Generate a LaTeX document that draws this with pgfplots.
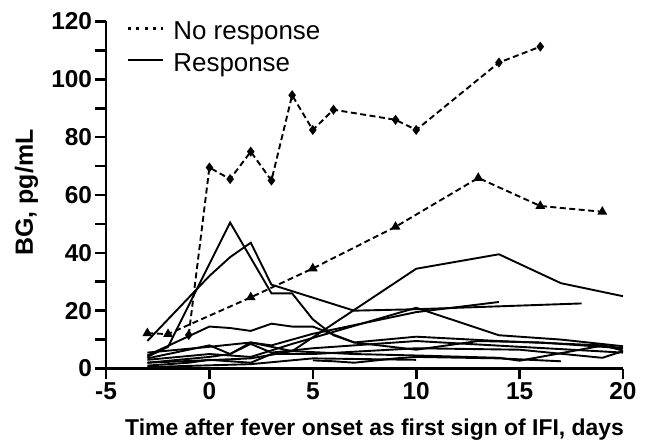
\documentclass[border=0pt]{standalone}
\usepackage{fontspec}
\setmainfont{Liberation Sans}
\usepackage{pgfplots}
\pgfplotsset{compat=1.18}
\begin{document}
\begin{tikzpicture}
\useasboundingbox (-106bp,-74.5bp) rectangle (542bp,368.5bp);
\begin{axis}[
  at={(0,0)}, anchor=south west,
  scale only axis, width=517bp, height=347bp,
  xmin=-5, xmax=20, ymin=0, ymax=120,
  axis x line=bottom, axis y line=left,
  axis line style={-, line width=2.6bp},
  xtick={-5,0,...,20}, ytick={0,20,...,120}, minor ytick={10,30,...,110},
  tick align=outside,
  major tick length=10.5bp, minor tick length=10.5bp,
  every tick/.style={black, line width=2.6bp},
  /pgf/number format/assume math mode=true,
  ticklabel style={font=\fontsize{24.5}{24.5}\selectfont\bfseries},
  xlabel={Time after fever onset as first sign of IFI, days},
  ylabel={BG, pg/mL},
  every axis x label/.style={at={(axis description cs:0.5195,-0.1945)}, anchor=base, font=\fontsize{23}{23}\selectfont\bfseries},
  every axis y label/.style={at={(axis description cs:-0.1412,0.507)}, anchor=base, rotate=90, font=\fontsize{25}{25}\selectfont\bfseries},
  legend style={at={(axis description cs:0.04,1.005)}, anchor=north west, draw=none, fill=none, inner sep=0pt, font=\fontsize{26}{26}\selectfont, row sep=8bp, /tikz/every odd column/.append style={column sep=7bp}},
  legend cell align=left,
  legend image code/.code={\draw[#1] (0bp,0.3em) -- (35bp,0.3em);},
  resp/.style={black, line width=1.9bp, mark=none, forget plot},
  nore/.style={black, line width=1.9bp, dash pattern=on 6bp off 3.5bp, forget plot},
  clip=false,
]
\addlegendimage{black, line width=2.6bp, dash pattern=on 3bp off 5.3bp}
\addlegendentry{No response}
\addlegendimage{black, line width=1.6bp}
\addlegendentry{Response}

% No response, diamonds
\addplot[nore, mark=diamond*, mark size=3.5bp, mark options={solid}] coordinates {
(-1,11.6) (0,69.5) (1,65.5) (2,75) (3,65) (4,94.5) (5,82.5) (6,89.5) (9,86) (10,82.5) (14,105.8) (16,111.3)};
% No response, triangles
\addplot[nore, mark=triangle*, mark size=3.8bp, mark options={solid}] coordinates {
(-3,12.2) (-2,11.9) (2,24.6) (5,34.6) (9,49) (13,65.9) (16,56.2) (19,54.2)};

% Response
\addplot[resp] coordinates {(-3,4) (-2,7.5) (1,50.5) (3,26) (4,26) (5,17) (6,11.5) (7,9) (10,6.5) (13,9.5) (16,9) (20,7)};
\addplot[resp] coordinates {(-3,9.5) (0,32) (1,38.5) (2,43.5) (3,29) (7,20) (10,20.5) (18,22.5)};
\addplot[resp] coordinates {(-3,2) (2,3.5) (4,6) (10,34.5) (14,39.5) (17,29.5) (20,25)};
\addplot[resp] coordinates {(-3,4.5) (0,14.5) (1,14) (2,13) (3,15.5) (4,14.5) (5,14.5) (7,9) (10,11) (14,9.5) (19,8) (20,6.2)};
\addplot[resp] coordinates {(-3,3) (0,5) (2,4) (4,8.5) (10,21) (14,11.5) (17,10) (20,7.7)};
\addplot[resp] coordinates {(-3,5.5) (0,7.5) (2,9) (3,8) (5,12) (10,19.5) (14,23)};
\addplot[resp] coordinates {(5,2.8) (6,2.5) (7,2) (9,3.5) (10,4) (14,3.5) (17,2.5)};
\addplot[resp] coordinates {(-3,2) (0,4) (1,5) (2,8.5) (3,5.5) (5,7) (10,9.5) (15,7.5) (20,5.5)};
\addplot[resp] coordinates {(-3,1) (-1,2) (0,3) (2,2) (3,5) (5,5) (10,7) (15,6.5) (19,3.7) (20,6)};
\addplot[resp] coordinates {(-3,3.5) (0,8) (1,5) (2,9) (4,6) (7,5) (10,4.5) (14,3.7) (15,2.7) (19,7.9) (20,7)};
\addplot[resp] coordinates {(-3,0.5) (2,1.5) (5,3.5) (10,3)};
\end{axis}
\end{tikzpicture}
\end{document}
